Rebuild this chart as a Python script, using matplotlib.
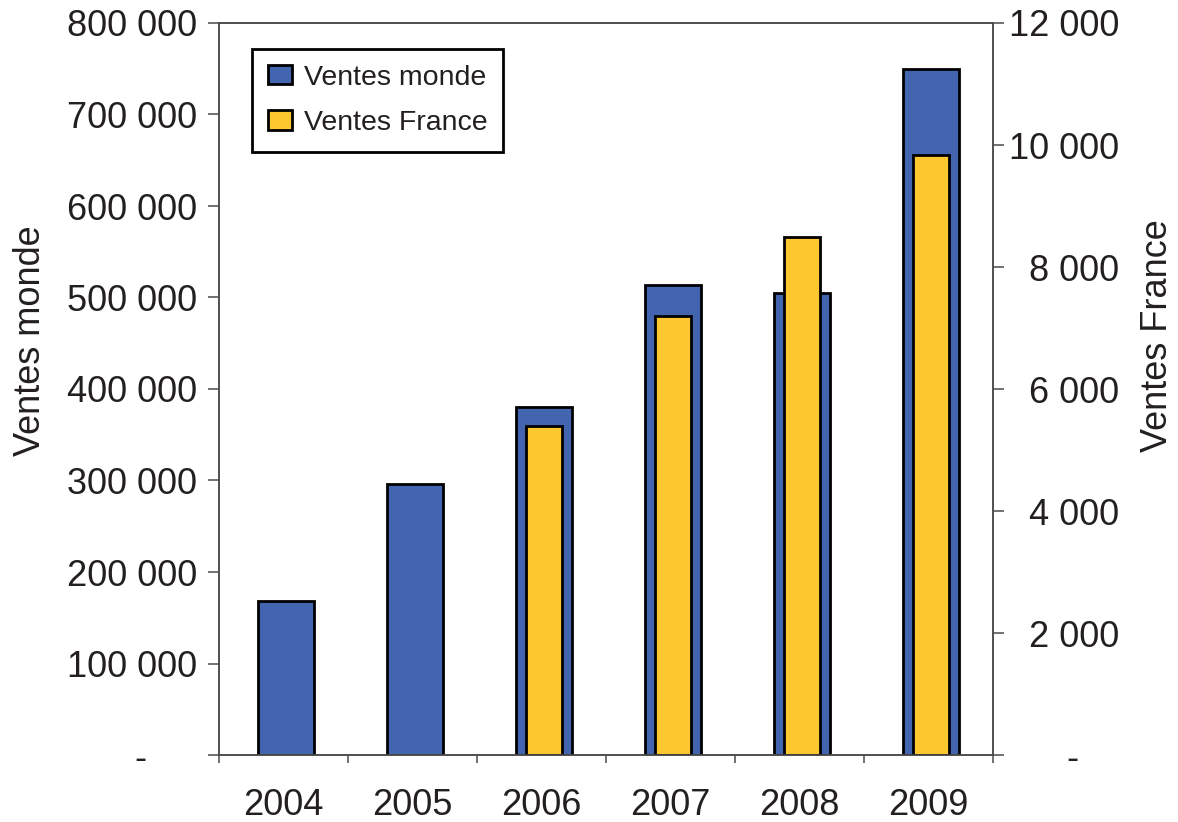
import matplotlib
matplotlib.use('Agg')
import matplotlib.pyplot as plt
from matplotlib.patches import Patch
from matplotlib.ticker import FixedLocator, FuncFormatter
import numpy as np

# ---- data ----
years = ['2004', '2005', '2006', '2007', '2008', '2009']
ventes_monde = [168000, 296000, 380000, 514000, 505000, 750000]
ventes_france = [None, None, 5400, 7200, 8500, 9840]
left_ticks = [0, 100000, 200000, 300000, 400000, 500000, 600000, 700000, 800000]
right_ticks = [0, 2000, 4000, 6000, 8000, 10000, 12000]

plt.rcParams['font.family'] = ['Liberation Sans', 'DejaVu Sans']
text_color = '#231f20'
spine_color = '#4a4a4a'
blue = '#4364ae'
yellow = '#fdc82f'

W, H = 1178, 822
fig = plt.figure(figsize=(W / 100, H / 100), dpi=100)
ax = fig.add_axes([219 / W, 1 - 755 / H, (993 - 219) / W, (755 - 23) / H])
ax2 = ax.twinx()

x = np.arange(len(years))
ax.bar(x + 0.02, ventes_monde, width=0.43, color=blue, edgecolor='black', linewidth=2)
fx = [i + 0.02 for i, v in enumerate(ventes_france) if v is not None]
fv = [v for v in ventes_france if v is not None]
ax2.bar(fx, fv, width=0.28, color=yellow, edgecolor='black', linewidth=2)

ax.set_xlim(-0.5, len(years) - 0.5)
ax.set_ylim(0, 800000)
ax2.set_ylim(0, 12000)


def make_fmt(zero_label):
    def fmt(v, pos=None):
        v = int(round(v))
        if v == 0:
            return zero_label
        return f'{v:,}'.replace(',', ' ')
    return fmt


# x axis: ticks at category boundaries, labels at centers
ax.xaxis.set_major_locator(FixedLocator(np.arange(-0.5, len(years), 1.0)))
ax.xaxis.set_major_formatter(FuncFormatter(lambda v, p: ''))
ax.xaxis.set_minor_locator(FixedLocator(x))
ax.set_xticklabels(years, minor=True)
ax.tick_params(axis='x', which='major', direction='out', length=6, width=1.1, color=spine_color)
ax.tick_params(axis='x', which='minor', length=0, pad=24, labelsize=26, labelcolor=text_color)

ax.yaxis.set_major_locator(FixedLocator(left_ticks))
ax.yaxis.set_major_formatter(FuncFormatter(make_fmt('-     ')))
ax.tick_params(axis='y', direction='out', length=8, width=1.1, color=spine_color,
               pad=8, labelsize=26, labelcolor=text_color)

ax2.yaxis.set_major_locator(FixedLocator(right_ticks))
ax2.yaxis.set_major_formatter(FuncFormatter(make_fmt('-    ')))
ax2.tick_params(axis='y', direction='out', length=8, width=1.1, color=spine_color,
                pad=83, labelsize=26, labelcolor=text_color)
plt.setp(ax2.get_yticklabels(), ha='right')

for a in (ax, ax2):
    for s in a.spines.values():
        s.set_color(spine_color)
        s.set_linewidth(1.1)

ax.set_ylabel('Ventes monde', fontsize=26, color=text_color, va='center', ha='center')
ax.yaxis.set_label_coords(-0.244, 0.566)
ax2.set_ylabel('Ventes France', fontsize=26, color=text_color, va='center', ha='center', rotation=90)
ax2.yaxis.set_label_coords(1.212, 0.573)

handles = [Patch(facecolor=blue, edgecolor='black', linewidth=2, label='Ventes monde'),
           Patch(facecolor=yellow, edgecolor='black', linewidth=2, label='Ventes France')]
leg = ax2.legend(handles=handles, loc='upper left', bbox_to_anchor=(0.0426, 0.9645),
                 borderaxespad=0, fontsize=20.5, frameon=True, fancybox=False,
                 edgecolor='black', framealpha=1, handlelength=0.86, handleheight=0.68,
                 handletextpad=0.4, borderpad=0.55, labelspacing=0.68, labelcolor=text_color)
leg.get_frame().set_linewidth(2)

fig.savefig('out.png', dpi=100)
